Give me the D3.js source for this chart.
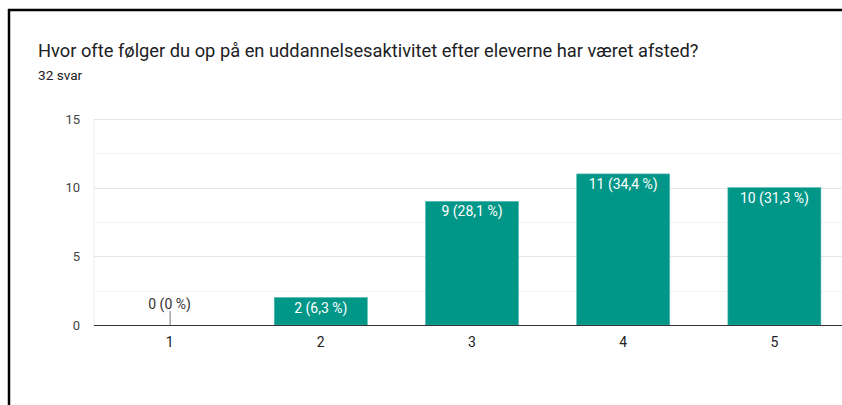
<!DOCTYPE html>
<html><head><meta charset="utf-8">
<script src="https://cdn.jsdelivr.net/npm/d3@7"></script>
<style>
html,body{margin:0;padding:0;background:#fff;overflow:hidden;}
svg{display:block;font-family:Roboto,Arial,sans-serif;}
</style></head>
<body>
<svg id="c" width="842" height="405"></svg>
<script>
const title = "Hvor ofte følger du op på en uddannelsesaktivitet efter eleverne har været afsted?";
const subtitle = "32 svar";
const categories = ["1","2","3","4","5"];
const counts = [0, 2, 9, 11, 10];
const percents = ["0 %", "6,3 %", "28,1 %", "34,4 %", "31,3 %"];
const yTicks = [0, 5, 10, 15];
const yMinorTicks = [2.5, 7.5, 12.5];

const svg = d3.select("#c");
// frame
svg.append("rect").attr("x",0).attr("y",0).attr("width",842).attr("height",405).attr("fill","#fff");
svg.append("line").attr("x1",8).attr("x2",842).attr("y1",10).attr("y2",10).attr("stroke","#000").attr("stroke-width",2.5);
svg.append("line").attr("x1",9).attr("x2",9).attr("y1",9).attr("y2",405).attr("stroke","#000").attr("stroke-width",2.5);

svg.append("text").attr("x",38).attr("y",57).attr("font-size",18.3).attr("fill","#202124").text(title);
svg.append("text").attr("x",38).attr("y",80).attr("font-size",13.6).attr("fill","#202124").text(subtitle);

const x = d3.scaleBand().domain(categories).range([94, 850]).paddingInner(0.385).paddingOuter(0.1925);
const y = d3.scaleLinear().domain([0, 15]).range([325, 119]);

const g = svg.append("g");
// plot left edge
g.append("line").attr("x1",94).attr("x2",94).attr("y1",y(15)).attr("y2",y(0)).attr("stroke","#ebebeb");
g.selectAll(".minor").data(yMinorTicks).join("line")
  .attr("x1",94).attr("x2",842).attr("y1",d=>Math.round(y(d))+0.5).attr("y2",d=>Math.round(y(d))+0.5)
  .attr("stroke","#f3f3f3");
g.selectAll(".major").data(yTicks.filter(d=>d>0)).join("line")
  .attr("x1",94).attr("x2",842).attr("y1",d=>Math.round(y(d))+0.5).attr("y2",d=>Math.round(y(d))+0.5)
  .attr("stroke","#e6e6e6");

// y axis labels
const yAxis = d3.axisLeft(y).tickValues(yTicks).tickSize(0).tickPadding(0);
const ya = svg.append("g").attr("transform","translate(80,0)").call(yAxis);
ya.select(".domain").remove();
ya.selectAll("text").attr("font-size",13).attr("fill","#444").attr("font-family","Roboto,Arial,sans-serif");

// bars
g.selectAll(".bar").data(categories).join("rect")
  .attr("x",d=>x(d)).attr("width",x.bandwidth())
  .attr("y",(d,i)=>y(counts[i])).attr("height",(d,i)=>y(0)-y(counts[i]))
  .attr("fill","#009688").attr("stroke","#4db6ac").attr("stroke-width",0.6);

// zero-line tick for zero bar
counts.forEach((c,i)=>{
  if(c===0){
    g.append("line").attr("x1",x(categories[i])+x.bandwidth()/2+0.5).attr("x2",x(categories[i])+x.bandwidth()/2+0.5)
      .attr("y1",y(0)-14).attr("y2",y(0)).attr("stroke","#777");
  }
});

// labels
g.selectAll(".lbl").data(categories).join("text")
  .attr("x",d=>x(d)+x.bandwidth()/2)
  .attr("y",(d,i)=>counts[i]===0 ? y(0)-16 : y(counts[i])+15)
  .attr("text-anchor","middle").attr("font-size",14)
  .attr("fill",(d,i)=>counts[i]===0 ? "#333" : "#fff")
  .text((d,i)=>`${counts[i]} (${percents[i]})`);

// x axis
svg.append("line").attr("x1",94).attr("x2",842).attr("y1",y(0)+0.5).attr("y2",y(0)+0.5).attr("stroke","#333").attr("stroke-width",1.2);
const xAxis = d3.axisBottom(x).tickSize(0).tickPadding(0);
const xa = svg.append("g").attr("transform",`translate(0,${y(0)+12})`).call(xAxis);
xa.select(".domain").remove();
xa.selectAll("text").attr("font-size",14).attr("fill","#222").attr("font-family","Roboto,Arial,sans-serif");
</script>
</body></html>
